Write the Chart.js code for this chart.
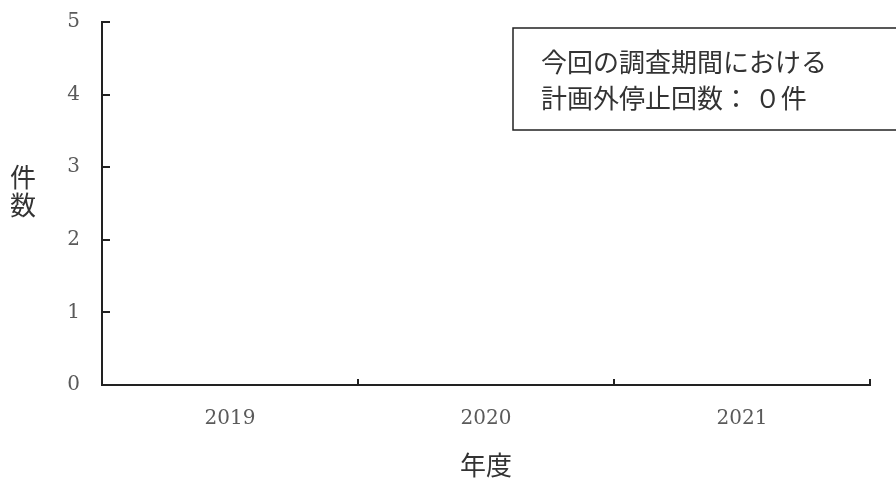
<!DOCTYPE html>
<html>
<head>
<meta charset="utf-8">
<script src="https://cdn.jsdelivr.net/npm/chart.js@4.4.0/dist/chart.umd.min.js"></script>
<style>
  html, body { margin: 0; padding: 0; background: #fff; }
  #wrap { width: 896px; height: 482px; }
</style>
</head>
<body>
<div id="wrap"><canvas id="chart-outages"></canvas></div>
<script>
  "use strict";

  var years = ['2019', '2020', '2021'];
  var outageCounts = [0, 0, 0];
  var yTicks = [0, 1, 2, 3, 4, 5];
  var yTitle = ['件', '数'];
  var xTitle = '年度';
  var noteLines = ['今回の調査期間における', '計画外停止回数： ０件'];

  var axisColor = '#222222';
  var cjkFont = '"Noto Sans CJK JP", "Noto Sans", sans-serif';
  var numFont = '"DejaVu Serif", "Liberation Serif", serif';

  // short tick marks pointing into the plot area, plus the side title and the note box
  var extrasPlugin = {
    id: 'extras',
    afterDraw: function (chart) {
      var ctx = chart.ctx;
      var area = chart.chartArea;
      var x = chart.scales.x, y = chart.scales.y;
      ctx.save();
      ctx.strokeStyle = axisColor;
      ctx.lineWidth = 2;
      ctx.beginPath();
      yTicks.forEach(function (v) {
        if (v === 0) return;
        var py = Math.round(y.getPixelForValue(v));
        ctx.moveTo(area.left, py);
        ctx.lineTo(area.left + 8, py);
      });
      var step = x.getPixelForTick(1) - x.getPixelForTick(0);
      for (var i = 0; i < years.length; i++) {
        var px = Math.round(x.getPixelForTick(i) + step / 2);
        ctx.moveTo(px, area.bottom);
        ctx.lineTo(px, area.bottom - 6);
      }
      ctx.stroke();

      ctx.fillStyle = '#333333';
      ctx.font = '26px ' + cjkFont;
      ctx.textAlign = 'center';
      ctx.textBaseline = 'middle';
      yTitle.forEach(function (ch, k) {
        ctx.fillText(ch, 23, 177 + k * 28);
      });

      ctx.lineWidth = 1.5;
      ctx.strokeRect(513, 28, 400, 102);
      ctx.font = '26px ' + cjkFont;
      ctx.textAlign = 'left';
      noteLines.forEach(function (line, k) {
        ctx.fillText(line, 541, 62 + k * 36);
      });
      ctx.restore();
    }
  };

  var ctxChart = document.getElementById('chart-outages').getContext('2d');
  var outageChart = new Chart(ctxChart, {
    type: 'bar',
    data: {
      labels: years,
      datasets: [{
        data: outageCounts,
        backgroundColor: '#4472C4',
        borderWidth: 0
      }]
    },
    options: {
      responsive: true,
      maintainAspectRatio: false,
      animation: false,
      layout: {
        padding: { top: 0, right: 26, left: 0, bottom: 0 }
      },
      scales: {
        x: {
          grid: { display: false },
          border: { display: true, color: axisColor, width: 2 },
          ticks: {
            padding: 14,
            color: '#5a5a5a',
            font: { family: numFont, size: 20 }
          },
          title: {
            display: true,
            text: xTitle,
            color: '#333333',
            padding: { top: 0, bottom: 1 },
            font: { family: cjkFont, size: 26 }
          },
          afterFit: function (scale) {
            scale.height = 97;
          }
        },
        y: {
          min: 0,
          max: 5,
          grid: { display: false },
          border: { display: true, color: axisColor, width: 2 },
          ticks: {
            stepSize: 1,
            padding: 14,
            color: '#5a5a5a',
            font: { family: numFont, size: 20, lineHeight: 0.8 }
          },
          afterFit: function (scale) {
            scale.width = 102;
          }
        }
      },
      plugins: {
        legend: { display: false },
        tooltip: { enabled: false }
      }
    },
    plugins: [extrasPlugin]
  });
</script>
</body>
</html>
